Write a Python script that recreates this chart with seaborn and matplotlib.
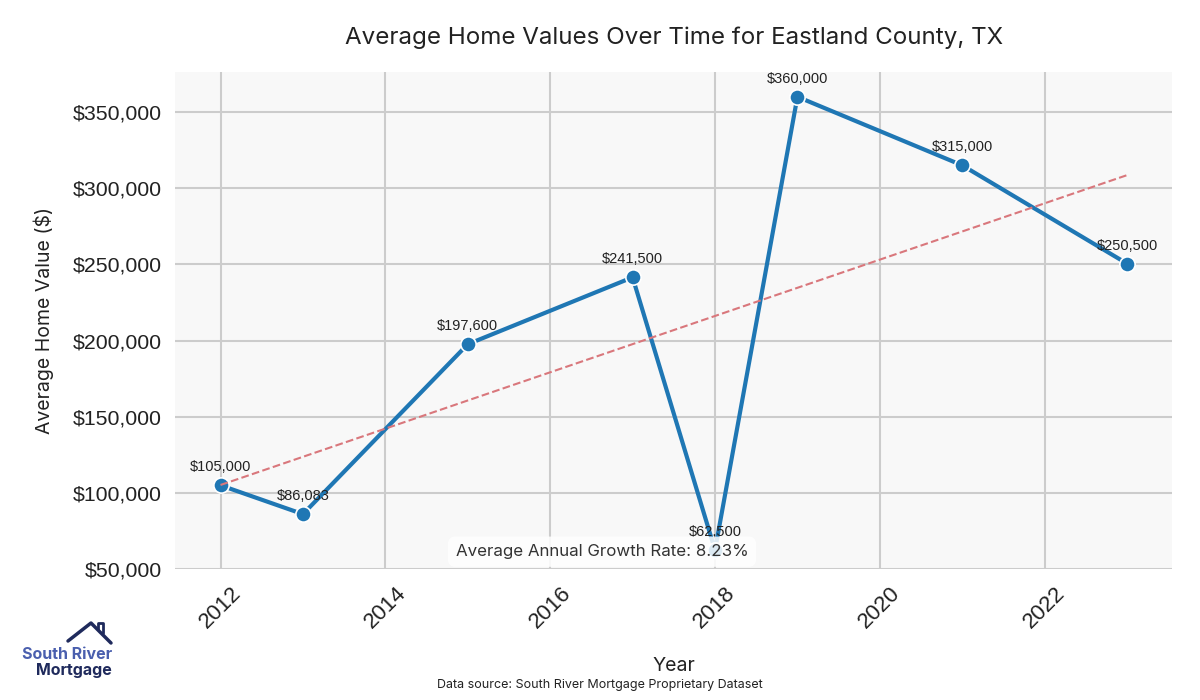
import numpy as np
import pandas as pd
import matplotlib
matplotlib.use("Agg")
import matplotlib.pyplot as plt
import seaborn as sns
from matplotlib.lines import Line2D

years = [2012, 2013, 2015, 2017, 2018, 2019, 2021, 2023]
values = [105000, 86083, 197600, 241500, 62500, 360000, 315000, 250500]

df = pd.DataFrame({"Year": years, "Value": values})

sns.set_theme(style="whitegrid")
plt.rcParams["font.family"] = ["Liberation Sans", "DejaVu Sans"]

fig, ax = plt.subplots(figsize=(12, 7), dpi=100)
fig.subplots_adjust(left=0.146, right=0.977, top=0.897, bottom=0.187)
ax.set_facecolor("#f8f8f8")
ax.grid(True, color="#cccccc", linewidth=1.5)
for s in ax.spines.values():
    s.set_visible(False)

sns.lineplot(data=df, x="Year", y="Value", ax=ax, color="#1f77b4", linewidth=3,
             marker="o", markersize=11, markeredgecolor="white", markeredgewidth=1.2)

# trend line
slope, intercept = np.polyfit(df["Year"], df["Value"], 1)
xs = np.array([years[0], years[-1]])
ax.plot(xs, slope * xs + intercept, color="#d9777c", linestyle="--", linewidth=1.5)

for x, y in zip(years, values):
    ax.annotate(f"${y:,.0f}", (x, y), textcoords="offset points", xytext=(0, 10),
                ha="center", fontsize=10.5, color="#222222")

ax.set_ylim(min(values) * 0.8, max(values) * 1.045)
ax.yaxis.set_major_formatter(matplotlib.ticker.FuncFormatter(lambda v, p: f"${v:,.0f}"))
ax.tick_params(axis="y", labelsize=15.3, colors="#222222")
ax.tick_params(axis="x", labelsize=16, colors="#222222", rotation=45)

growth = ((values[-1] / values[0]) ** (1 / (years[-1] - years[0])) - 1) * 100
ax.text(0.428, 0.035, f"Average Annual Growth Rate: {growth:.2f}%", transform=ax.transAxes,
        ha="center", va="center", fontsize=12.2, family=["Inter", "DejaVu Sans"], color="#333333",
        bbox=dict(boxstyle="round,pad=0.45", facecolor="white", edgecolor="none", alpha=0.85))

ax.set_title("Average Home Values Over Time for Eastland County, TX", fontsize=17.4,
             family=["Inter", "DejaVu Sans"], color="#222222", pad=20)
ax.set_xlabel("Year", fontsize=14, family=["Inter", "DejaVu Sans"], color="#222222", labelpad=18)
ax.set_ylabel("Average Home Value ($)", fontsize=14, family=["Inter", "DejaVu Sans"],
              color="#222222", labelpad=14)

fig.text(0.5, 0.017, "Data source: South River Mortgage Proprietary Dataset", ha="center",
         fontsize=9, family=["Inter", "DejaVu Sans"], color="#222222")

# logo
fig.text(0.0185, 0.058, "South River", fontsize=11.5, fontweight="bold", color="#4a5fae",
         family=["Inter", "DejaVu Sans"])
fig.text(0.03, 0.035, "Mortgage", fontsize=11.5, fontweight="bold", color="#1f2a5c",
         family=["Inter", "DejaVu Sans"])
roof_x = [68, 91, 111]
roof_y = [641, 623, 643]
fig.add_artist(Line2D([v / 1200 for v in roof_x], [1 - v / 700 for v in roof_y],
                      color="#1f2a5c", linewidth=2.5))
fig.add_artist(Line2D([98 / 1200, 98 / 1200, 103 / 1200, 103 / 1200],
                      [1 - 629 / 700, 1 - 623 / 700, 1 - 623 / 700, 1 - 633 / 700],
                      color="#1f2a5c", linewidth=2))

fig.savefig("out.png", dpi=100)
